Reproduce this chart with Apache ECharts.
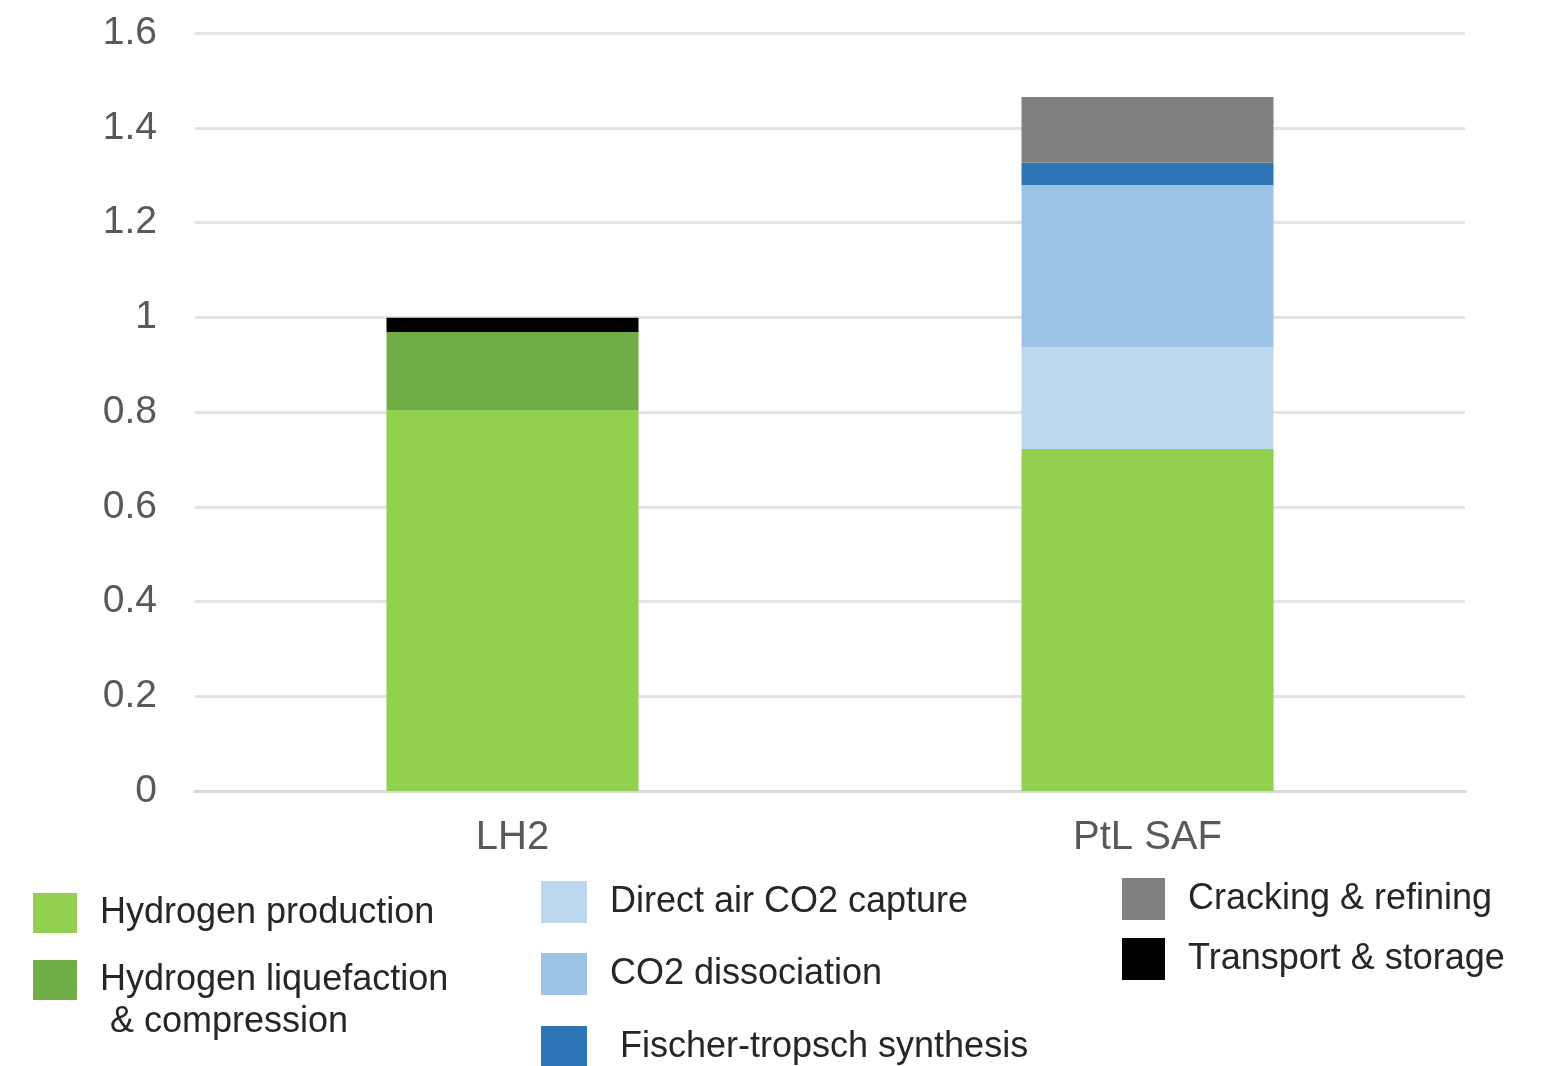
<!DOCTYPE html>
<html>
<head>
<meta charset="utf-8">
<script src="https://cdn.jsdelivr.net/npm/echarts@6/dist/echarts.min.js"></script>
<style>
  html, body { margin: 0; padding: 0; background: #fff; }
  #main { width: 1551px; height: 1066px; }
</style>
</head>
<body>
<div id="main"></div>
<script>
// categories and stacked values
let categories = ['LH2', 'PtL SAF'];
let yTicks = [0, 0.2, 0.4, 0.6, 0.8, 1, 1.2, 1.4, 1.6];

let h2Production   = [0.804, 0.722];
let h2Liquefaction = [0.165, 0];
let dacCapture     = [0, 0.215];
let co2Dissociation = [0, 0.342];
let fischerTropsch = [0, 0.047];
let crackingRefining = [0, 0.139];
let transportStorage = [0.03, 0];

let seriesNames = [
  'Hydrogen production',
  'Hydrogen liquefaction\n & compression',
  'Direct air CO2 capture',
  'CO2 dissociation',
  ' Fischer-tropsch synthesis',
  'Cracking & refining',
  'Transport & storage'
];
let seriesData = [h2Production, h2Liquefaction, dacCapture, co2Dissociation,
  fischerTropsch, crackingRefining, transportStorage];
let seriesColors = ['#92D050', '#70AD47', '#BDD7EE', '#9DC3E6', '#2E75B6', '#808080', '#000000'];

var myChart = echarts.init(document.getElementById('main'));

const font = 'Liberation Sans, Arial, sans-serif';

// one legend box per entry, placed like the original
function legendBox(name, left, top, w, h, extra) {
  return Object.assign({
    orient: 'vertical', left: left, top: top, padding: 0,
    itemWidth: w, itemHeight: h, icon: 'rect',
    textStyle: { fontFamily: font, fontSize: 36, color: '#262626', padding: [0, 0, 0, 18], lineHeight: 42 },
    data: [name]
  }, extra || {});
}

var option = {
  animation: false,
  backgroundColor: '#ffffff',
  grid: { left: 195, right: 86, top: 33, bottom: 275 },
  xAxis: {
    type: 'category',
    data: categories,
    axisLine: { lineStyle: { color: '#d9d9d9', width: 3 } },
    axisTick: { show: false },
    axisLabel: { fontFamily: font, fontSize: 40, color: '#595959', margin: 27 }
  },
  yAxis: {
    type: 'value',
    min: yTicks[0],
    max: yTicks[yTicks.length - 1],
    interval: 0.2,
    axisLine: { show: false },
    axisTick: { show: false },
    splitLine: { lineStyle: { color: '#e3e3e3', width: 3 } },
    axisLabel: {
      fontFamily: font, fontSize: 39, color: '#595959', margin: 38,
      formatter: (v) => String(Math.round(v * 10) / 10)
    }
  },
  legend: [
    legendBox(seriesNames[0], 33, 892, 44, 40),
    // the icon sits beside the first line, so pad with an empty line on top
    legendBox(seriesNames[1], 33, 917, 44, 40, { formatter: (n) => '\n' + n }),
    legendBox(seriesNames[2], 541, 881, 46, 42),
    legendBox(seriesNames[3], 541, 953, 46, 42),
    legendBox(seriesNames[4], 541, 1026, 46, 42),
    legendBox(seriesNames[5], 1122, 878, 43, 42),
    legendBox(seriesNames[6], 1122, 938, 43, 42)
  ],
  series: seriesNames.map((name, i) => ({
    name: name,
    type: 'bar',
    stack: 'total',
    barWidth: 252,
    itemStyle: { color: seriesColors[i] },
    data: seriesData[i]
  }))
};
myChart.setOption(option);
</script>
</body>
</html>
